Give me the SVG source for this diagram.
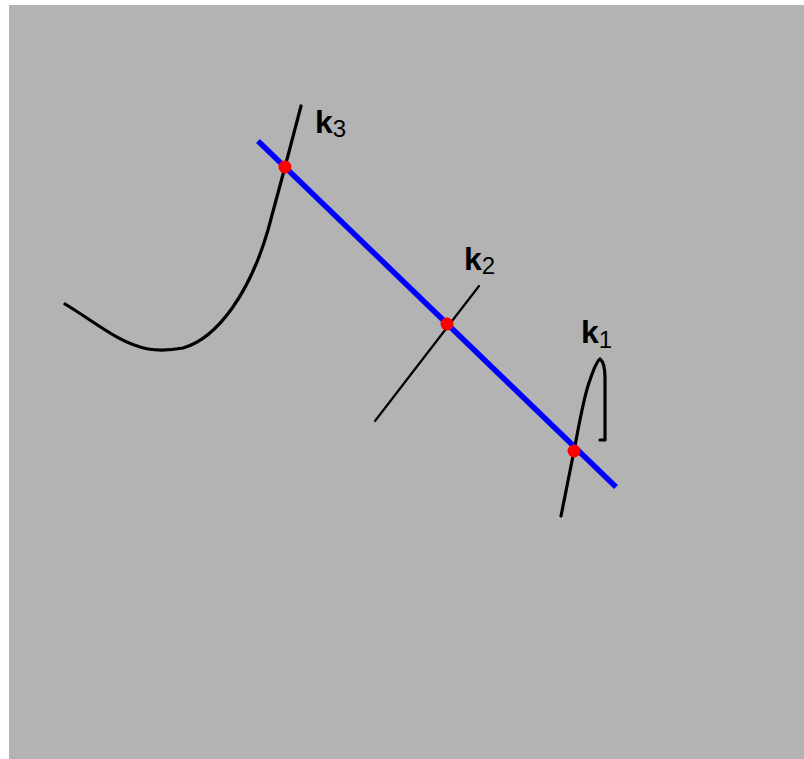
<svg xmlns="http://www.w3.org/2000/svg" width="804" height="759" viewBox="0 0 804 759">
<style>
.curve{fill:none;stroke:#000;stroke-width:3.2;stroke-linecap:round;stroke-linejoin:round}
.thin{fill:none;stroke:#000;stroke-width:2.2;stroke-linecap:round}
.pt{fill:#ff0000}
.lbl{font-family:"Liberation Sans",Arial,sans-serif;font-weight:bold;font-size:32px;fill:#000}
.sub{font-family:"Liberation Sans",Arial,sans-serif;font-weight:normal;font-size:24px;fill:#000}
</style>
<rect x="0" y="0" width="804" height="759" fill="#ffffff"/>
<rect x="9" y="5" width="795" height="754" fill="#b3b3b3"/>
<g id="curves">
<path id="k3-curve" class="curve" d="M65,304 C95,322 120,344 148,349 C160,351 172,350 183,348 C218,338 250,292 268,230 C276,200 281,182 285,167 L301,106"/>
<path id="k2-curve" class="thin" d="M375,421 L479,286"/>
<path id="k1-curve" class="curve" d="M561,516 L574,451 C579,425 584,395 590,380 C594,368 597,361 600,359 C604,362 605,368 605,378 L605,440 L600,440"/>
</g>
<g id="connectors">
<line x1="258" y1="141" x2="616" y2="487" stroke="#0000ff" stroke-width="5.5"/>
</g>
<g id="points">
<circle class="pt" cx="285" cy="167" r="6.5"/>
<circle class="pt" cx="447" cy="324" r="6.5"/>
<circle class="pt" cx="574" cy="451" r="6.5"/>
</g>
<g id="label-k3"><text class="lbl" x="315" y="133">k<tspan class="sub" dy="4">3</tspan></text></g>
<g id="label-k2"><text class="lbl" x="464" y="270">k<tspan class="sub" dy="4">2</tspan></text></g>
<g id="label-k1"><text class="lbl" x="581" y="343">k<tspan class="sub" dy="5">1</tspan></text></g>
</svg>
